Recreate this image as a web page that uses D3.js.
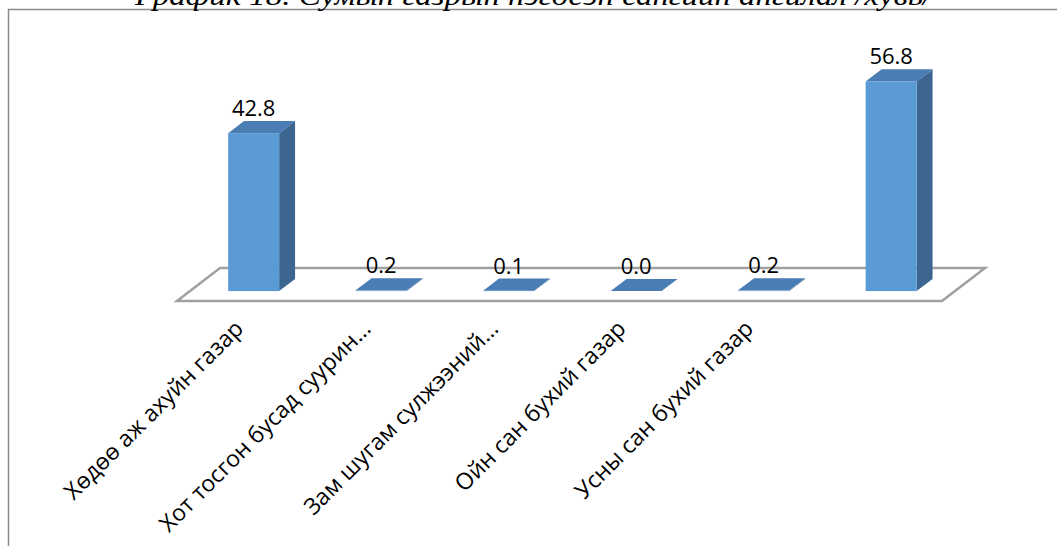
<!DOCTYPE html>
<html><head><meta charset="utf-8">
<script src="https://cdn.jsdelivr.net/npm/d3@7"></script>
<style>html,body{margin:0;padding:0;background:#fff;}svg{display:block;}</style>
</head><body>
<svg id="chart" width="1057" height="546"></svg>
<script>
const titleText = "График 18. Сумын газрын нэгдсэн сангийн ангилал /хувь/";
const categories = ["Хөдөө аж ахуйн газар", "Хот тосгон бусад суурин…", "Зам шугам сулжээний…", "Ойн сан бухий газар", "Усны сан бухий газар", ""];
const values = [42.8, 0.2, 0.1, 0.0, 0.2, 56.8];
const yDomain = [0, 60];

const svg = d3.select("#chart");
const W = 1057, H = 546;

// frame
svg.append("line").attr("x1", 8).attr("x2", W).attr("y1", 9.5).attr("y2", 9.5)
  .attr("stroke", "#8a8a8a").attr("stroke-width", 1.5);
svg.append("line").attr("x1", 8.5).attr("x2", 8.5).attr("y1", 9).attr("y2", H)
  .attr("stroke", "#8a8a8a").attr("stroke-width", 1.5);

// title (cut off at top, as in the source)
svg.append("text").attr("x", 135).attr("y", 5)
  .attr("font-family", "Liberation Serif, serif").attr("font-style", "italic")
  .attr("font-size", 27).attr("fill", "#000")
  .attr("textLength", 797).attr("lengthAdjust", "spacingAndGlyphs")
  .text(titleText);

// 3D geometry
const floorFront = {x0: 177, x1: 942, y: 301};
const floorDepth = {dx: 43, dy: -33};
const barFrontFrac = 0.3, barDepthFrac = 0.37;
const bOff = {dx: floorDepth.dx * barFrontFrac, dy: floorDepth.dy * barFrontFrac};
const bDepth = {dx: floorDepth.dx * barDepthFrac, dy: floorDepth.dy * barDepthFrac};

const x = d3.scaleBand().domain(categories.map((c, i) => i))
  .range([floorFront.x0, floorFront.x1]).paddingInner(0.6).paddingOuter(0.3);
const baseY = floorFront.y + bOff.dy;
const y = d3.scaleLinear().domain(yDomain).range([baseY, baseY - 60 * 3.69]);

// floor
const fp = [
  [floorFront.x0, floorFront.y],
  [floorFront.x1, floorFront.y],
  [floorFront.x1 + floorDepth.dx, floorFront.y + floorDepth.dy],
  [floorFront.x0 + floorDepth.dx, floorFront.y + floorDepth.dy]
];
svg.append("polygon").attr("points", fp.map(p => p.join(",")).join(" "))
  .attr("fill", "#fff").attr("stroke", "#a0a0a0").attr("stroke-width", 2.5)
  .attr("stroke-linejoin", "miter");

const colFront = "#5b9bd5", colTop = "#4a7db3", colSide = "#3c6690";
const g = svg.append("g");
values.forEach((v, i) => {
  const xl = x(i) + bOff.dx, xr = xl + x.bandwidth();
  const yb = y(0), yt = y(v);
  const dx = bDepth.dx, dy = bDepth.dy;
  const poly = pts => pts.map(p => p.join(",")).join(" ");
  g.append("polygon").attr("points", poly([[xr, yt], [xr + dx, yt + dy], [xr + dx, yb + dy], [xr, yb]]))
    .attr("fill", colSide);
  g.append("polygon").attr("points", poly([[xl, yt], [xr, yt], [xr + dx, yt + dy], [xl + dx, yt + dy]]))
    .attr("fill", colTop);
  g.append("rect").attr("x", xl).attr("y", yt).attr("width", xr - xl).attr("height", Math.max(0, yb - yt))
    .attr("fill", colFront);
  g.append("text").attr("x", (xl + xr) / 2).attr("y", yt + dy - 5)
    .attr("text-anchor", "middle").attr("font-family", "Open Sans, sans-serif")
    .attr("font-size", 22).attr("fill", "#000")
    .text(d3.format(".1f")(v));
});

// category labels
categories.forEach((c, i) => {
  const cx = x(i) + x.bandwidth() / 2 + 4;
  svg.append("text")
    .attr("transform", `translate(${cx},${330}) rotate(-45)`)
    .attr("text-anchor", "end")
    .attr("font-family", "Open Sans, sans-serif").attr("font-size", 23).attr("fill", "#000")
    .text(c);
});
</script>
</body></html>
